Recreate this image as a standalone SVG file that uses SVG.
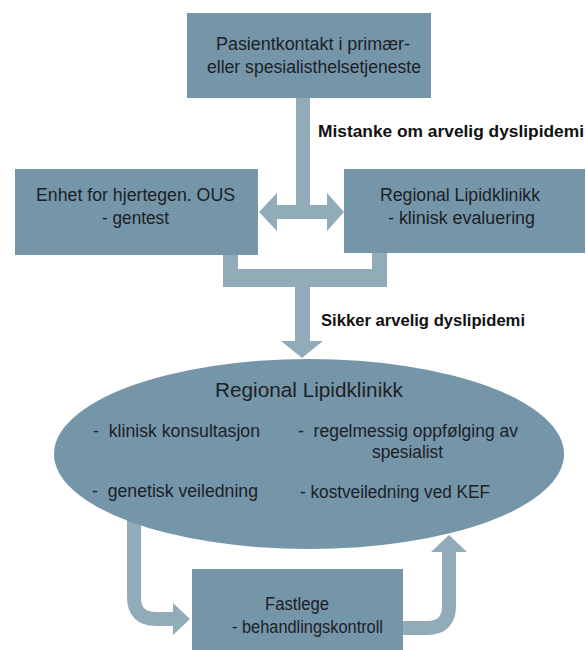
<svg xmlns="http://www.w3.org/2000/svg" width="586" height="650" viewBox="0 0 586 650">
<style>
.box{fill:#7595a9;}
.arr{fill:#92abb9;}
.arrs{fill:none;stroke:#92abb9;stroke-width:14;}
.t{font-family:"Liberation Sans",Arial,sans-serif;font-size:17.5px;fill:#1c2126;}
.c{text-anchor:middle;}
.b{font-family:"Liberation Sans",Arial,sans-serif;font-size:17px;font-weight:bold;fill:#111;}
.pre{white-space:pre;}
</style>
<rect width="586" height="650" fill="#fff"/>
<g id="connectors">
  <path class="arr" d="M296,98 H310 V205 H327 V193 L344,212 L327,231 V219 H277 V231 L259,212 L277,193 V205 H296 Z"/>
  <path class="arr" d="M223,255 H238 V269 H372 V253 H387 V287 H310 V341 H323 L302,358 L281,341 H295 V287 H223 Z"/>
  <path class="arrs" d="M134,515 V597 Q134,619 156,619 H174"/>
  <polygon class="arr" points="173,603 190,619 173,635"/>
  <path class="arrs" d="M402,628 H427 Q449,628 449,606 V551"/>
  <polygon class="arr" points="431,552 449,535 467,552"/>
</g>
<g id="n_top">
  <rect class="box" x="187" y="13" width="244" height="85"/>
  <text class="t c" x="313" y="50" textLength="194" lengthAdjust="spacingAndGlyphs">Pasientkontakt i primær-</text>
  <text class="t c" x="314" y="73" textLength="214" lengthAdjust="spacingAndGlyphs">eller spesialisthelsetjeneste</text>
</g>
<g id="n_left">
  <rect class="box" x="15" y="169" width="243" height="86"/>
  <text class="t c" x="135.5" y="201" textLength="199" lengthAdjust="spacingAndGlyphs">Enhet for hjertegen. OUS</text>
  <text class="t c" x="135.5" y="224" textLength="67" lengthAdjust="spacingAndGlyphs">- gentest</text>
</g>
<g id="n_right">
  <rect class="box" x="344" y="169" width="241" height="84"/>
  <text class="t c" x="460" y="201" textLength="160" lengthAdjust="spacingAndGlyphs">Regional Lipidklinikk</text>
  <text class="t c" x="461.5" y="224" textLength="147" lengthAdjust="spacingAndGlyphs">- klinisk evaluering</text>
</g>
<g id="lbl1">
  <text class="b" x="318" y="137" textLength="266" lengthAdjust="spacingAndGlyphs">Mistanke om arvelig dyslipidemi</text>
</g>
<g id="lbl2">
  <text class="b" x="321" y="326" textLength="204" lengthAdjust="spacingAndGlyphs">Sikker arvelig dyslipidemi</text>
</g>
<g id="n_ellipse">
  <ellipse class="box" cx="309" cy="454" rx="255" ry="95"/>
  <text class="t c" x="309" y="397" style="font-size:20.5px" textLength="188" lengthAdjust="spacingAndGlyphs">Regional Lipidklinikk</text>
  <text class="t pre" x="93" y="437" textLength="167" lengthAdjust="spacingAndGlyphs">-  klinisk konsultasjon</text>
  <text class="t pre" x="298" y="437" textLength="220" lengthAdjust="spacingAndGlyphs">-  regelmessig oppfølging av</text>
  <text class="t c" x="407.5" y="458" textLength="71" lengthAdjust="spacingAndGlyphs">spesialist</text>
  <text class="t pre" x="92" y="497" textLength="166" lengthAdjust="spacingAndGlyphs">-  genetisk veiledning</text>
  <text class="t" x="300" y="498" textLength="190" lengthAdjust="spacingAndGlyphs">- kostveiledning ved KEF</text>
</g>
<g id="n_fastlege">
  <rect class="box" x="192" y="569" width="211" height="85"/>
  <text class="t c" x="297" y="610" textLength="64" lengthAdjust="spacingAndGlyphs">Fastlege</text>
  <text class="t c" x="307.5" y="633" textLength="151" lengthAdjust="spacingAndGlyphs">- behandlingskontroll</text>
</g>
</svg>
